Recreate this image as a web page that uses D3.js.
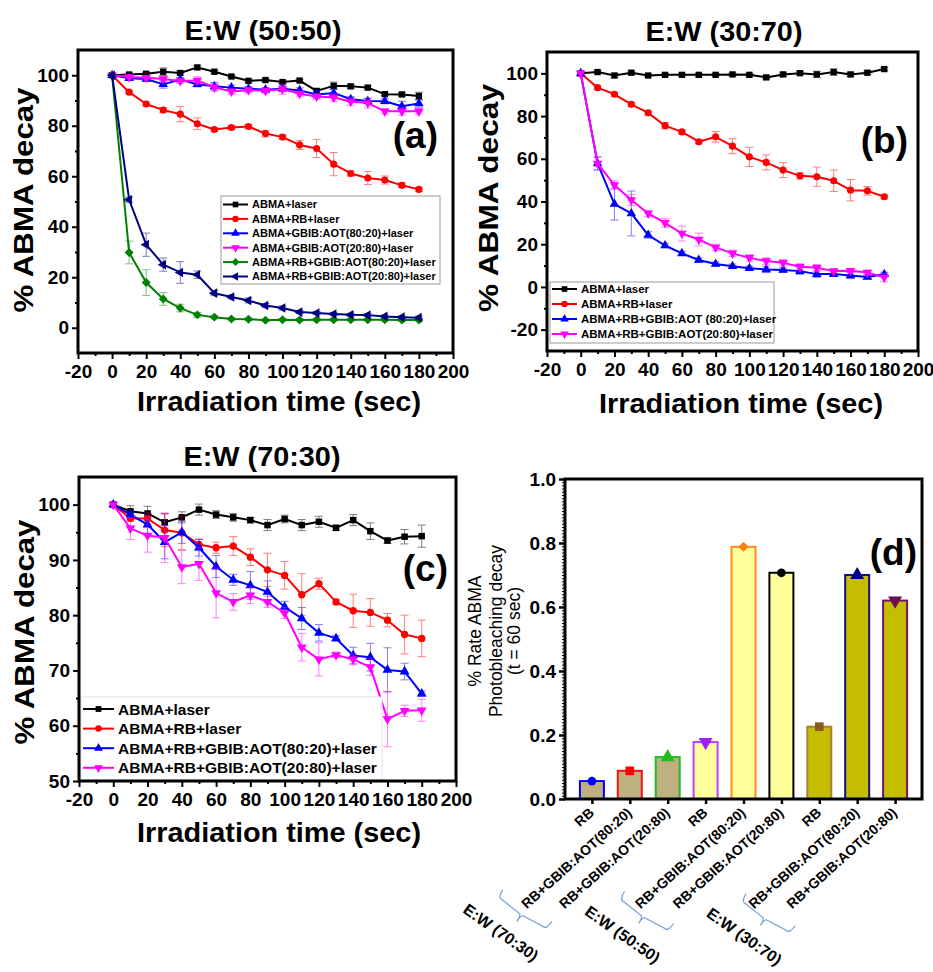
<!DOCTYPE html>
<html><head><meta charset="utf-8">
<script src="https://cdn.jsdelivr.net/npm/d3@7"></script>
<style>body{margin:0;background:#fff} svg{display:block}</style>
</head><body>
<svg id="c" width="933" height="972"></svg>
<script>
// ---------------- DATA ----------------
const times = [0,10,20,30,40,50,60,70,80,90,100,110,120,130,140,150,160,170,180];
const xMajorTicks = [-20,0,20,40,60,80,100,120,140,160,180,200];
const xMinorTicks = [-10,10,30,50,70,90,110,130,150,170,190];

// Panel (a) E:W (50:50)
const aLaser     = [100,100.3,100.6,101.4,100.9,103.1,101.4,99.5,97.8,98.1,97.3,97.9,93.8,95.8,95.6,95.1,92.5,92.4,91.8];
const aRB        = [100,93.3,88.6,86.2,84.6,80.8,78.5,79.3,79.7,76.9,75.5,72.4,71.0,64.8,61.1,59.3,58.5,56.4,54.8];
const aGB8020    = [100,98.8,98.5,96.4,98.3,96.4,95.6,95.1,94.7,94.3,94.7,94.0,92.4,93.0,90.5,89.8,89.7,87.7,88.8];
const aGB2080    = [100,99.3,99.0,98.5,97.7,97.9,95.2,93.6,94.1,93.9,94.5,92.7,91.6,91.2,89.6,89.0,85.7,85.7,85.7];
const aRBGB8020  = [100,29.8,17.9,11.4,7.8,5.1,4.2,3.5,3.4,3.0,3.2,3.1,3.2,3.2,3.2,3.2,3.2,3.1,3.1];
const aRBGB2080  = [100,50.7,32.9,25.0,21.9,21.0,13.7,12.2,10.8,8.8,7.8,6.2,5.8,5.4,5.1,5.0,4.5,4.2,4.0];
const aLaserErr    = [0,0.5,0.6,1.5,0.8,0.8,0.6,0.5,0.5,0.5,0.6,0.5,0.8,1.5,0.8,0.6,0.6,0.8,1.5];
const aRBErr       = [0,0.6,0.8,1.0,3.0,2.3,0.8,0.8,0.8,1.3,1.0,1.8,3.6,4.6,1.0,2.6,1.6,1.0,0.8];
const aGB8020Err   = [0,0.8,0.8,1.5,0.8,1.0,1.5,1.0,0.8,0.8,1.0,1.0,1.5,1.5,1.0,1.0,1.0,2.0,1.5];
const aGB2080Err   = [0,0.8,0.8,1.0,1.0,1.5,1.5,1.0,1.0,1.0,2.0,1.0,1.0,1.5,1.5,2.0,1.0,1.5,1.0];
const aRBGB8020Err = [0,4.5,5.1,2.5,1.5,1.0,0.6,0.5,0.5,0.5,0.5,0.5,0.5,0.5,0.5,0.5,0.5,0.5,0.5];
const aRBGB2080Err = [0,1.0,4.6,2.6,4.3,1.5,1.0,0.8,1.0,0.8,0.8,0.6,0.6,0.6,0.6,0.6,0.6,0.6,0.6];
const aLabels = ["ABMA+laser","ABMA+RB+laser","ABMA+GBIB:AOT(80:20)+laser","ABMA+GBIB:AOT(20:80)+laser","ABMA+RB+GBIB:AOT(80:20)+laser","ABMA+RB+GBIB:AOT(20:80)+laser"];

// Panel (b) E:W (30:70)
const bLaser    = [100,100.6,99.0,100.3,99.0,99.3,99.3,99.3,99.3,99.5,99.3,98.1,99.5,100.1,99.5,100.6,99.5,100.3,102.0];
const bRB       = [100,93.3,90.2,85.5,81.5,75.5,72.6,68.0,70.3,65.9,60.9,58.3,54.7,52.0,51.6,49.7,45.3,45.0,42.2];
const bRBGB8020 = [100,57.8,38.8,34.4,24.3,19.4,15.7,12.6,10.7,9.7,8.7,8.2,7.9,7.4,6.0,6.0,5.4,4.7,5.9];
const bRBGB2080 = [100,57.8,47.7,40.7,34.4,30.0,25.0,22.2,18.5,15.7,13.6,12.1,11.3,9.4,9.0,7.4,7.6,6.8,4.4];
const bLaserErr    = [0,0.6,1.0,0.8,0.6,0.6,0.6,0.6,0.6,0.6,0.6,0.8,1.0,0.8,1.5,1.5,1.0,0.8,0.8];
const bRBErr       = [0,0.8,1.0,1.0,1.0,1.5,1.0,1.0,2.5,3.5,4.5,3.5,3.5,1.5,4.5,5.0,5.0,2.0,1.0];
const bRBGB8020Err = [0,3.0,7.5,10.5,1.5,1.0,1.0,1.0,1.0,1.0,1.0,1.5,1.0,1.5,1.5,1.0,1.5,1.0,1.0];
const bRBGB2080Err = [0,3.0,2.0,2.5,1.5,2.0,3.5,3.0,1.5,1.5,1.5,1.5,1.5,1.5,1.5,1.0,1.0,1.0,2.0];
const bLabels = ["ABMA+laser","ABMA+RB+laser","ABMA+RB+GBIB:AOT (80:20)+laser","ABMA+RB+GBIB:AOT(20:80)+laser"];

// Panel (c) E:W (70:30)
const cLaser    = [100,98.8,98.4,96.8,97.7,99.1,98.2,97.7,97.2,96.3,97.4,96.3,96.9,95.8,97.2,95.2,93.5,94.2,94.3];
const cRB       = [100,97.5,97.5,95.4,94.9,92.8,92.2,92.5,90.5,88.2,87.2,83.7,85.7,82.4,80.8,80.5,79.1,76.5,75.8];
const cRBGB8020 = [100,98.2,96.4,93.2,95.0,92.2,88.8,86.4,85.4,84.2,81.5,79.4,76.8,75.8,72.7,72.4,70.1,69.8,65.8];
const cRBGB2080 = [100,95.7,94.4,94.0,88.7,89.3,84.0,82.4,83.6,82.4,80.4,74.2,72.0,72.8,72.0,70.6,61.2,62.7,62.8];
const cLaserErr    = [0,1.0,1.3,1.5,1.0,1.0,0.7,0.7,0.5,1.0,0.7,1.0,1.0,0.5,1.0,1.5,0.5,1.3,2.0];
const cRBErr       = [0,0.5,1.0,3.0,3.0,1.0,1.0,1.7,1.5,3.0,2.5,3.8,1.0,0.5,3.0,2.5,1.2,3.5,3.3];
const cRBGB8020Err = [0,0.5,2.0,3.0,2.0,1.5,2.0,1.0,2.5,2.0,1.0,2.0,1.5,0.5,1.5,2.5,4.0,1.5,0.5];
const cRBGB2080Err = [0,2.0,3.0,4.5,3.0,3.0,4.5,1.5,1.5,1.0,1.0,2.5,3.0,0.5,1.0,1.5,5.0,1.0,2.0];
const cLabels = ["ABMA+laser","ABMA+RB+laser","ABMA+RB+GBIB:AOT(80:20)+laser","ABMA+RB+GBIB:AOT(20:80)+laser"];

// Panel (d) bar chart
const dCategories = ["RB","RB+GBIB:AOT(80:20)","RB+GBIB:AOT(20:80)","RB","RB+GBIB:AOT(80:20)","RB+GBIB:AOT(20:80)","RB","RB+GBIB:AOT(80:20)","RB+GBIB:AOT(20:80)"];
const dGroups = ["E:W (70:30)","E:W (50:50)","E:W (30:70)"];
const dValues = [0.056,0.088,0.131,0.178,0.788,0.707,0.226,0.700,0.620];
const dYTicks = [0,0.2,0.4,0.6,0.8,1.0];

// ---------------- STYLES ----------------
const FONT = "'Liberation Sans', Arial, Helvetica, sans-serif";
const dFill   = ["#beb07f","#beb07f","#beb07f","#ffff9c","#ffff9c","#ffff9c","#c4bd00","#c4bd00","#c4bd00"];
const dStroke = ["#0000ff","#ff1010","#22bb22","#c040ff","#ff8c1a","#000000","#a8803a","#101080","#7a1060"];
const dMarkC  = ["#0000ff","#ff0000","#22bb22","#a020f0","#ff8000","#000000","#8b5a1a","#000080","#6a0f50"];
const dMark   = ["circle","square","triUp","triDown","diamond","circle","square","triUp","triDown"];

const svg = d3.select("#c").attr("font-family", FONT);

function sym(type, size) {
  const map = {square:[d3.symbolSquare,0], circle:[d3.symbolCircle,0], triUp:[d3.symbolTriangle,0],
    triDown:[d3.symbolTriangle,180], diamond:[d3.symbolSquare,45], triLeft:[d3.symbolTriangle,-90]};
  const [t, r] = map[type];
  return {d: d3.symbol(t, size)(), rot: r};
}

function bigText(x, y, str, size, len, rot) {
  const t = svg.append("text").attr("transform", `translate(${x},${y})` + (rot ? ` rotate(${rot})` : ""))
    .attr("text-anchor","middle").attr("font-size", size).attr("font-weight","bold").text(str);
  if (len) t.attr("textLength", len).attr("lengthAdjust","spacingAndGlyphs");
  return t;
}

function linePanel(o) {
  const g = svg.append("g");
  const x = d3.scaleLinear().domain([-20, 200]).range([o.left, o.right]);
  const y = d3.scaleLinear().domain(o.yDomain).range([o.bottom, o.top]);
  const line = d3.line().x((d,i) => x(times[i])).y(d => y(d));

  o.series.forEach(s => {
    const sg = g.append("g");
    const eb = sg.append("g").attr("stroke", s.color).attr("stroke-width", 1).attr("opacity", 0.5);
    s.values.forEach((v,i) => {
      const e = s.err[i]; if (!e) return;
      const cx = x(times[i]), ya = y(v + e), yb = y(v - e);
      eb.append("line").attr("x1",cx).attr("x2",cx).attr("y1",ya).attr("y2",yb);
      eb.append("line").attr("x1",cx-4).attr("x2",cx+4).attr("y1",ya).attr("y2",ya);
      eb.append("line").attr("x1",cx-4).attr("x2",cx+4).attr("y1",yb).attr("y2",yb);
    });
    sg.append("path").datum(s.values).attr("d", line).attr("fill","none")
      .attr("stroke", s.color).attr("stroke-width", 2).attr("stroke-linejoin","round");
    const m = sym(s.marker, o.msize);
    sg.selectAll("path.mk").data(s.values).join("path").attr("class","mk").attr("d", m.d)
      .attr("transform", (d,i) => `translate(${x(times[i])},${y(d)}) rotate(${m.rot})`)
      .attr("fill", s.color);
  });

  // legend
  const L = o.legend;
  const lg = g.append("g");
  lg.append("rect").attr("x",L.x).attr("y",L.y).attr("width",L.w).attr("height",L.h)
    .attr("fill","#fff").attr("stroke",L.border).attr("stroke-width",1);
  o.series.forEach((s,i) => {
    const yy = L.y + L.first + i*L.step;
    lg.append("line").attr("x1",L.x+2).attr("x2",L.x+2+L.line).attr("y1",yy).attr("y2",yy)
      .attr("stroke",s.color).attr("stroke-width",2);
    const m = sym(s.marker, o.msize*0.8);
    lg.append("path").attr("d",m.d).attr("transform",`translate(${L.x+2+L.line/2},${yy}) rotate(${m.rot})`).attr("fill",s.color);
    lg.append("text").attr("x",L.x+L.line+6).attr("y",yy).attr("dy","0.36em")
      .attr("font-size",L.font).attr("font-weight","bold").text(s.label);
  });

  // axes
  const ax = g.append("g").attr("transform",`translate(0,${o.bottom})`)
    .call(d3.axisBottom(x).tickValues(xMajorTicks).tickSize(6).tickPadding(6).tickFormat(d => String(d)));
  const axm = g.append("g").attr("transform",`translate(0,${o.bottom})`)
    .call(d3.axisBottom(x).tickValues(xMinorTicks).tickSize(3).tickFormat(""));
  const ay = g.append("g").attr("transform",`translate(${o.left},0)`)
    .call(d3.axisLeft(y).tickValues(o.yTicks).tickSize(6).tickPadding(3).tickFormat(d => String(d)));
  const aym = g.append("g").attr("transform",`translate(${o.left},0)`)
    .call(d3.axisLeft(y).tickValues(o.yMinor).tickSize(3).tickFormat(""));
  [ax, axm, ay, aym].forEach(a => {
    a.select(".domain").remove();
    a.selectAll("line").attr("stroke","#000").attr("stroke-width",2);
    a.attr("font-size",19).attr("font-family",FONT).attr("font-weight","bold");
    a.selectAll("text").attr("fill","#000");
  });
  g.append("rect").attr("x",o.left).attr("y",o.top).attr("width",o.right-o.left).attr("height",o.bottom-o.top)
    .attr("fill","none").attr("stroke","#000").attr("stroke-width",3);

  // labels
  bigText(o.titleX, o.titleY, o.title, 27, 157);
  bigText(o.xlabX, o.xlabY, "Irradiation time (sec)", 27, 284);
  bigText(o.ylabX, o.ylabY, "% ABMA decay", 27, o.ylabLen, -90);
  g.append("text").attr("x",o.letterX).attr("y",o.letterY).attr("text-anchor","end")
    .attr("font-size",37).attr("font-weight","bold").text(o.letter);
}

// Panel (a)
linePanel({
  left:78, right:453, top:50, bottom:353, yDomain:[-10,110],
  yTicks:[0,20,40,60,80,100], yMinor:[10,30,50,70,90], msize:40,
  series:[
    {values:aLaser, err:aLaserErr, color:"#000000", marker:"square", label:aLabels[0]},
    {values:aRB, err:aRBErr, color:"#ff0000", marker:"circle", label:aLabels[1]},
    {values:aGB8020, err:aGB8020Err, color:"#0000ff", marker:"triUp", label:aLabels[2]},
    {values:aGB2080, err:aGB2080Err, color:"#ff00ff", marker:"triDown", label:aLabels[3]},
    {values:aRBGB8020, err:aRBGB8020Err, color:"#008000", marker:"diamond", label:aLabels[4]},
    {values:aRBGB2080, err:aRBGB2080Err, color:"#000080", marker:"triLeft", label:aLabels[5]}
  ],
  legend:{x:221, y:196, w:219, h:88, first:8.5, step:14.4, line:25, font:11, border:"#999"},
  title:"E:W (50:50)", titleX:263, titleY:40,
  xlabX:279, xlabY:411, ylabX:33, ylabY:200, ylabLen:225,
  letter:"(a)", letterX:438, letterY:148
});

// Panel (b)
linePanel({
  left:547, right:918, top:52, bottom:351, yDomain:[-30,110],
  yTicks:[-20,0,20,40,60,80,100], yMinor:[-10,10,30,50,70,90], msize:40,
  series:[
    {values:bLaser, err:bLaserErr, color:"#000000", marker:"square", label:bLabels[0]},
    {values:bRB, err:bRBErr, color:"#ff0000", marker:"circle", label:bLabels[1]},
    {values:bRBGB8020, err:bRBGB8020Err, color:"#0000ff", marker:"triUp", label:bLabels[2]},
    {values:bRBGB2080, err:bRBGB2080Err, color:"#ff00ff", marker:"triDown", label:bLabels[3]}
  ],
  legend:{x:550, y:282, w:224, h:61, first:7, step:15, line:25, font:11.5, border:"#999"},
  title:"E:W (30:70)", titleX:724, titleY:41,
  xlabX:741, xlabY:413, ylabX:498, ylabY:198, ylabLen:228,
  letter:"(b)", letterX:908, letterY:153
});

// Panel (c)
linePanel({
  left:79, right:456, top:477, bottom:781, yDomain:[50,105],
  yTicks:[50,60,70,80,90,100], yMinor:[55,65,75,85,95], msize:42,
  series:[
    {values:cLaser, err:cLaserErr, color:"#000000", marker:"square", label:cLabels[0]},
    {values:cRB, err:cRBErr, color:"#ff0000", marker:"circle", label:cLabels[1]},
    {values:cRBGB8020, err:cRBGB8020Err, color:"#0000ff", marker:"triUp", label:cLabels[2]},
    {values:cRBGB2080, err:cRBGB2080Err, color:"#ff00ff", marker:"triDown", label:cLabels[3]}
  ],
  legend:{x:81, y:697, w:301, h:83, first:12, step:19.6, line:31, font:15.5, border:"#e4e4e4"},
  title:"E:W (70:30)", titleX:262, titleY:466,
  xlabX:279, xlabY:842, ylabX:34, ylabY:632, ylabLen:225,
  letter:"(c)", letterX:448, letterY:581
});

// Panel (d)
(function(){
  const g = svg.append("g");
  const x = d3.scalePoint().domain(d3.range(dValues.length)).range([565, 922]).padding(0.71);
  const y = d3.scaleLinear().domain([0, 1]).range([799, 479]);
  const bw = 24;
  g.selectAll("rect.bar").data(dValues).join("rect").attr("class","bar")
    .attr("x",(d,i)=>x(i)-bw/2).attr("y",d=>y(d)).attr("width",bw).attr("height",d=>y(0)-y(d))
    .attr("fill",(d,i)=>dFill[i]).attr("stroke",(d,i)=>dStroke[i]).attr("stroke-width",2);
  g.selectAll("path.mk").data(dValues).join("path").attr("class","mk")
    .attr("d",(d,i)=>{ const t=dMark[i]; return sym(t, t==="circle"?60:(t==="square"?75:(t==="diamond"?50:85))).d; })
    .attr("transform",(d,i)=>`translate(${x(i)},${y(d)}) rotate(${sym(dMark[i],10).rot})`)
    .attr("fill",(d,i)=>dMarkC[i]);

  // axes
  const minor = d3.range(0, 101).map(k => k/100).filter(v => !dYTicks.some(t => Math.abs(t-v) < 1e-9));
  const aym = g.append("g").attr("transform","translate(565,0)")
    .call(d3.axisLeft(y).tickValues(minor).tickSize(3).tickFormat(""));
  aym.selectAll("line").attr("stroke","#000").attr("stroke-width",1);
  const ay = g.append("g").attr("transform","translate(565,0)")
    .call(d3.axisLeft(y).tickValues(dYTicks).tickSize(6).tickPadding(3).tickFormat(d3.format(".1f")));
  const axb = g.append("g").attr("transform","translate(0,799)")
    .call(d3.axisBottom(x).tickSize(5).tickFormat(""));
  [aym, ay, axb].forEach(a => { a.select(".domain").remove(); });
  [ay, axb].forEach(a => a.selectAll("line").attr("stroke","#000").attr("stroke-width",2.5));
  ay.attr("font-size",19).attr("font-family",FONT).attr("font-weight","bold");
  ay.selectAll("text").attr("fill","#000");
  g.append("rect").attr("x",565).attr("y",479).attr("width",357).attr("height",320)
    .attr("fill","none").attr("stroke","#000").attr("stroke-width",3);

  // rotated category labels
  g.selectAll("text.cat").data(dCategories).join("text").attr("class","cat")
    .attr("transform",(d,i)=>`translate(${x(i)+3},814) rotate(-42)`)
    .attr("text-anchor","end").attr("font-size",14).attr("font-weight","bold").text(d=>d);

  // braces + group labels
  dGroups.forEach((name, gi) => {
    const p1 = [x(gi*3) - 94 + 8*gi, 897 + 2*gi];
    const u = [0.837, 0.547], n = [0.547, -0.837];
    const len = 58.5, hook = 9, tipL = 10;
    const p2 = [p1[0]+u[0]*len, p1[1]+u[1]*len];
    const mid = [p1[0]+u[0]*len/2, p1[1]+u[1]*len/2];
    const a = [p1[0]+n[0]*hook, p1[1]+n[1]*hook];
    const b = [p2[0]+n[0]*hook, p2[1]+n[1]*hook];
    const tip = [mid[0]-n[0]*tipL, mid[1]-n[1]*tipL];
    const m1 = [mid[0]-u[0]*2-n[0]*2, mid[1]-u[1]*2-n[1]*2];
    const m2 = [mid[0]+u[0]*2-n[0]*2, mid[1]+u[1]*2-n[1]*2];
    const path = d3.path();
    path.moveTo(a[0],a[1]);
    path.quadraticCurveTo(p1[0]-n[0]*1, p1[1]-n[1]*1, p1[0]+u[0]*5, p1[1]+u[1]*5);
    path.lineTo(m1[0], m1[1]);
    path.quadraticCurveTo(mid[0]-n[0]*3, mid[1]-n[1]*3, tip[0], tip[1]);
    path.quadraticCurveTo(mid[0]-n[0]*3, mid[1]-n[1]*3, m2[0], m2[1]);
    path.lineTo(p2[0]-u[0]*5, p2[1]-u[1]*5);
    path.quadraticCurveTo(p2[0]-n[0]*1, p2[1]-n[1]*1, b[0], b[1]);
    g.append("path").attr("d", path.toString()).attr("fill","none").attr("stroke","#6f9fd6").attr("stroke-width",1.2);
    g.append("text").attr("transform",`translate(${tip[0]-16},${tip[1]+11}) rotate(35)`)
      .attr("text-anchor","middle").attr("dy","0.35em").attr("font-size",16).attr("font-weight","bold").text(name);
  });

  // y label (3 lines)
  const yl = ["% Rate ABMA","Photobleaching decay","(t = 60 sec)"];
  const yx = [481, 502, 520];
  yl.forEach((t,i) => {
    g.append("text").attr("transform",`translate(${yx[i]},631) rotate(-90)`).attr("text-anchor","middle")
      .attr("font-size",17.5).text(t);
  });
  g.append("text").attr("x",917).attr("y",565).attr("text-anchor","end")
    .attr("font-size",37).attr("font-weight","bold").text("(d)");
})();
</script>
</body></html>
